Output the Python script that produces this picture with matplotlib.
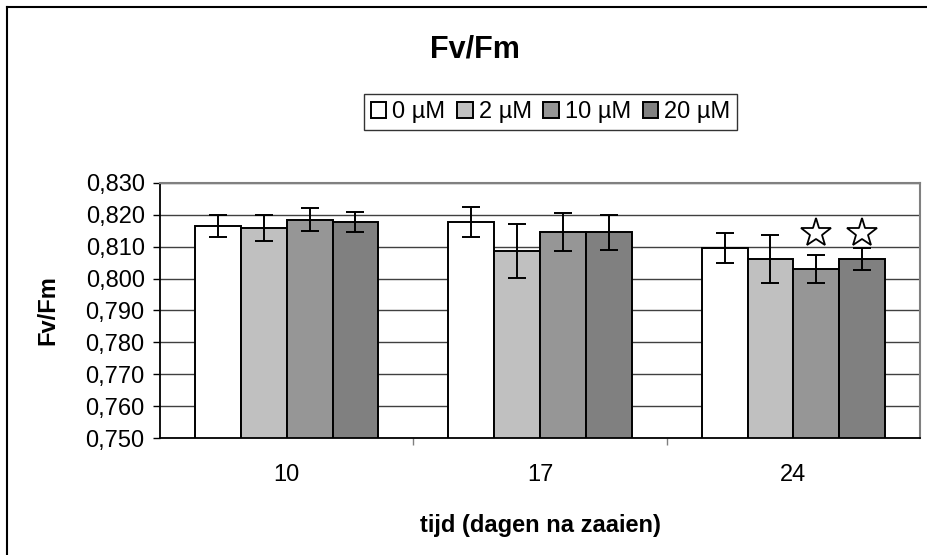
import numpy as np
import matplotlib.pyplot as plt
from matplotlib.lines import Line2D

plt.rcParams["font.family"] = ["Liberation Sans", "DejaVu Sans"]

# Fv/Fm per sowing age and concentration
days = ["10", "17", "24"]
series = ["0 µM", "2 µM", "10 µM", "20 µM"]
means = [
    [0.8165, 0.8177, 0.8097],   # 0 uM
    [0.8158, 0.8087, 0.8062],   # 2 uM
    [0.8184, 0.8146, 0.8030],   # 10 uM
    [0.8177, 0.8146, 0.8062],   # 20 uM
]
errs = [
    [0.0034, 0.0048, 0.0047],
    [0.0040, 0.0085, 0.0076],
    [0.0036, 0.0060, 0.0045],
    [0.0031, 0.0055, 0.0034],
]
# significant differences (series index, day index)
stars = [(2, 2), (3, 2)]
star_y = 0.8142

colors = ["#FFFFFF", "#C0C0C0", "#969696", "#808080"]

fig = plt.figure(figsize=(9.27, 5.55), dpi=100)
ax = fig.add_axes([0.1726, 0.2108, 0.8199, 0.4595])

x = np.arange(len(days))
w = 0.181
for i, (lab, m, e) in enumerate(zip(series, means, errs)):
    pos = x + (i - 1.5) * w
    ax.bar(pos, m, width=w, color=colors[i], edgecolor="black", lw=1.4,
           label=lab, zorder=2)
    ax.errorbar(pos, m, yerr=e, fmt="none", ecolor="black", elinewidth=1.4,
                capsize=6.5, capthick=1.4, zorder=3)

for si, di in stars:
    ax.plot(x[di] + (si - 1.5) * w, star_y, marker="*", ms=22, mfc="white",
            mec="black", mew=1.3, zorder=4, clip_on=False)

ax.set_xlim(-0.5, 2.5)
ax.set_ylim(0.75, 0.83)
ax.set_yticks(np.arange(0.75, 0.8301, 0.01))
ax.set_yticklabels([f"{v:.3f}".replace(".", ",") for v in np.arange(0.75, 0.8301, 0.01)])
ax.set_xticks(x)
ax.set_xticklabels(days)
ax.set_xticks([0.5, 1.5], minor=True)
ax.tick_params(axis="x", which="major", length=0, pad=19, labelsize=17)
ax.tick_params(axis="x", which="minor", length=5, color="#808080", width=1)
ax.tick_params(axis="y", length=5, width=1, labelsize=17, pad=6)

ax.grid(axis="y", color="#404040", lw=1.0, zorder=0)
ax.set_axisbelow(True)
for s in ["top", "right"]:
    ax.spines[s].set_color("#808080")
    ax.spines[s].set_linewidth(1.5)
for s in ["left", "bottom"]:
    ax.spines[s].set_color("black")
    ax.spines[s].set_linewidth(1.3)

ax.set_xlabel("tijd (dagen na zaaien)", fontsize=17, fontweight="bold", labelpad=20)
ax.set_ylabel("Fv/Fm", fontsize=17, fontweight="bold", labelpad=19)
fig.text(0.512, 0.91, "Fv/Fm", ha="center", va="center", fontsize=22, fontweight="bold")

leg = ax.legend(loc="center", bbox_to_anchor=(0.514, 1.278), ncol=4, frameon=True,
                fancybox=False, edgecolor="black", fontsize=17, handlelength=0.65,
                handleheight=0.65, handletextpad=0.25, columnspacing=0.5,
                borderpad=0.3, borderaxespad=0)
leg.get_frame().set_linewidth(1.0)

# figure border (left and top edges visible)
fig.add_artist(Line2D([7 / 927, 7 / 927], [0, 1 - 7 / 555], color="black", lw=1.5))
fig.add_artist(Line2D([7 / 927, 1], [1 - 7 / 555, 1 - 7 / 555], color="black", lw=1.5))

fig.savefig("out.png", dpi=100)
